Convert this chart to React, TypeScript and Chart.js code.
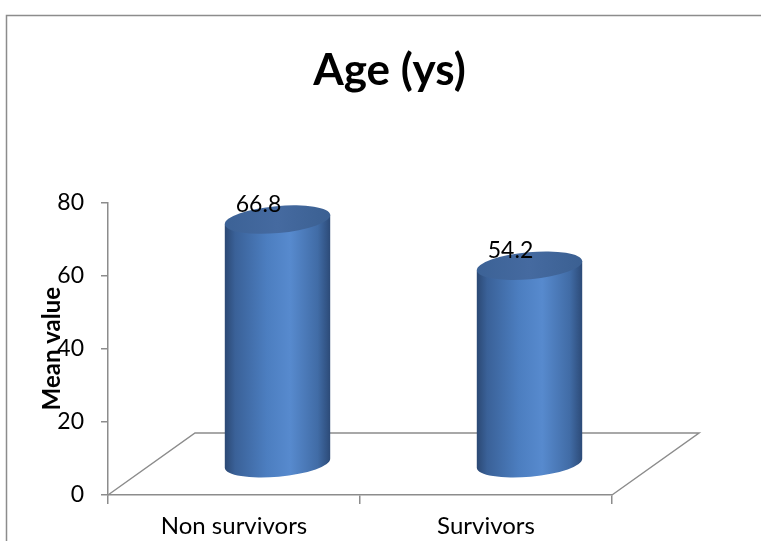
import React, { useEffect, useRef } from "react";
import { Chart, registerables } from "chart.js";

Chart.register(...registerables);

const categories = ["Non survivors", "Survivors"];
const meanValues = [66.8, 54.2];
const valueLabels = ["66.8", "54.2"];
const yTicks = [0, 20, 40, 60, 80];
const titleText = "Age (ys)";
const yTitle = "Mean value";

const FONT = "Lato";
const DX = 87;
const DY = -62;
const GRAY = "#8c8c8c";

const cylinderPlugin = {
  id: "cylinder3d",
  beforeDatasetsDraw(chart: any) {
    const { ctx, chartArea } = chart;
    const { left, right, bottom } = chartArea;
    ctx.save();
    ctx.strokeStyle = GRAY;
    ctx.lineWidth = 1.5;
    ctx.beginPath();
    ctx.moveTo(left, bottom);
    ctx.lineTo(left + DX, bottom + DY);
    ctx.lineTo(right + DX, bottom + DY);
    ctx.lineTo(right, bottom);
    ctx.stroke();
    ctx.restore();
  },
  afterDatasetsDraw(chart: any) {
    const { ctx } = chart;
    const meta = chart.getDatasetMeta(0);
    const theta = -0.09;
    const ry = 13.5;
    meta.data.forEach((bar: any, i: number) => {
      const cx = bar.x + DX / 2;
      const yTop = bar.y + DY / 2;
      const yBot = bar.base + DY / 2;
      const rx = bar.width / 2;
      const c = Math.cos(theta);
      const s = Math.sin(theta);
      ctx.save();
      const g = ctx.createLinearGradient(cx - rx, 0, cx + rx, 0);
      g.addColorStop(0, "#2b4873");
      g.addColorStop(0.1, "#3a6198");
      g.addColorStop(0.4, "#4c7ec0");
      g.addColorStop(0.62, "#578ace");
      g.addColorStop(0.88, "#416ca6");
      g.addColorStop(1, "#2c4a77");
      ctx.fillStyle = g;
      ctx.beginPath();
      ctx.ellipse(cx, yBot, rx, ry, theta, 0, Math.PI, false);
      ctx.lineTo(cx - rx * c, yTop - rx * s);
      ctx.lineTo(cx + rx * c, yTop + rx * s);
      ctx.closePath();
      ctx.fill();
      // top face
      const tg = ctx.createLinearGradient(cx - rx, 0, cx + rx, 0);
      tg.addColorStop(0, "#3c6296");
      tg.addColorStop(0.5, "#456aa0");
      tg.addColorStop(1, "#3b6092");
      ctx.fillStyle = tg;
      ctx.beginPath();
      ctx.ellipse(cx, yTop, rx, ry, theta, 0, Math.PI * 2);
      ctx.fill();
      // label
      ctx.fillStyle = "#000";
      ctx.font = `23px ${FONT}`;
      ctx.textAlign = "center";
      ctx.textBaseline = "middle";
      ctx.fillText(valueLabels[i], cx - 19, yTop - 15);
      ctx.restore();
    });
  },
  afterDraw(chart: any) {
    const { ctx } = chart;
    ctx.save();
    ctx.strokeStyle = GRAY;
    ctx.lineWidth = 1.5;
    ctx.beginPath();
    ctx.moveTo(6.5, 541);
    ctx.lineTo(6.5, 15.5);
    ctx.lineTo(761, 15.5);
    ctx.stroke();
    ctx.restore();
  },
};

export default function App() {
  const ref = useRef<HTMLCanvasElement | null>(null);
  useEffect(() => {
    let chart: any = null;
    let cancelled = false;
    const make = () => {
      if (cancelled || !ref.current) return;
      chart = new Chart(ref.current, {
        type: "bar",
        data: {
          labels: categories,
          datasets: [
            {
              data: meanValues,
              backgroundColor: "rgba(0,0,0,0)",
              borderWidth: 0,
              categoryPercentage: 1,
              barPercentage: 0.42,
            },
          ],
        },
        options: {
          responsive: false,
          animation: false,
          layout: { padding: { left: 18, right: 0, top: 0, bottom: 0 } },
          plugins: {
            legend: { display: false },
            tooltip: { enabled: false },
            title: {
              display: true,
              text: titleText,
              color: "#000",
              font: { family: FONT, size: 44, weight: "bold" },
              padding: { top: 44, bottom: 105.5 },
            },
          },
          scales: {
            x: {
              type: "category",
              grid: {
                drawOnChartArea: false,
                drawTicks: true,
                tickLength: 9,
                color: GRAY,
                lineWidth: 1.5,
                offset: true,
              },
              border: { display: true, color: GRAY, width: 1.5 },
              ticks: {
                color: "#000",
                font: { family: FONT, size: 24 },
                padding: 8,
              },
              afterFit: (s: any) => {
                s.height = 46;
              },
            },
            y: {
              min: 0,
              max: 80,
              afterBuildTicks: (s: any) => {
                s.ticks = yTicks.map((v) => ({ value: v }));
              },
              grid: {
                drawOnChartArea: false,
                drawTicks: true,
                tickLength: 7,
                color: GRAY,
                lineWidth: 1.5,
              },
              border: { display: true, color: GRAY, width: 1.5 },
              ticks: {
                color: "#000",
                font: { family: FONT, size: 23 },
                padding: 17,
              },
              title: {
                display: true,
                text: yTitle,
                color: "#000",
                font: { family: FONT, size: 24, weight: "bold" },
                padding: { top: 20, bottom: 0 },
              },
              afterFit: (s: any) => {
                s.width = 90;
              },
            },
            yR: {
              position: "right",
              display: true,
              grid: { display: false },
              border: { display: false },
              ticks: { display: false },
              afterFit: (s: any) => {
                s.width = 149;
              },
            },
          },
        },
        plugins: [cylinderPlugin],
      } as any);
    };
    const fontsApi: any = (document as any).fonts;
    if (fontsApi && fontsApi.load) {
      Promise.all([
        fontsApi.load(`bold 44px ${FONT}`),
        fontsApi.load(`23px ${FONT}`),
      ])
        .catch(() => null)
        .then(make);
    } else {
      make();
    }
    return () => {
      cancelled = true;
      if (chart) chart.destroy();
    };
  }, []);
  return (
    <div style={{ position: "absolute", left: 0, top: 0, width: 761, height: 541 }}>
      <canvas ref={ref} width={761} height={541} />
    </div>
  );
}
